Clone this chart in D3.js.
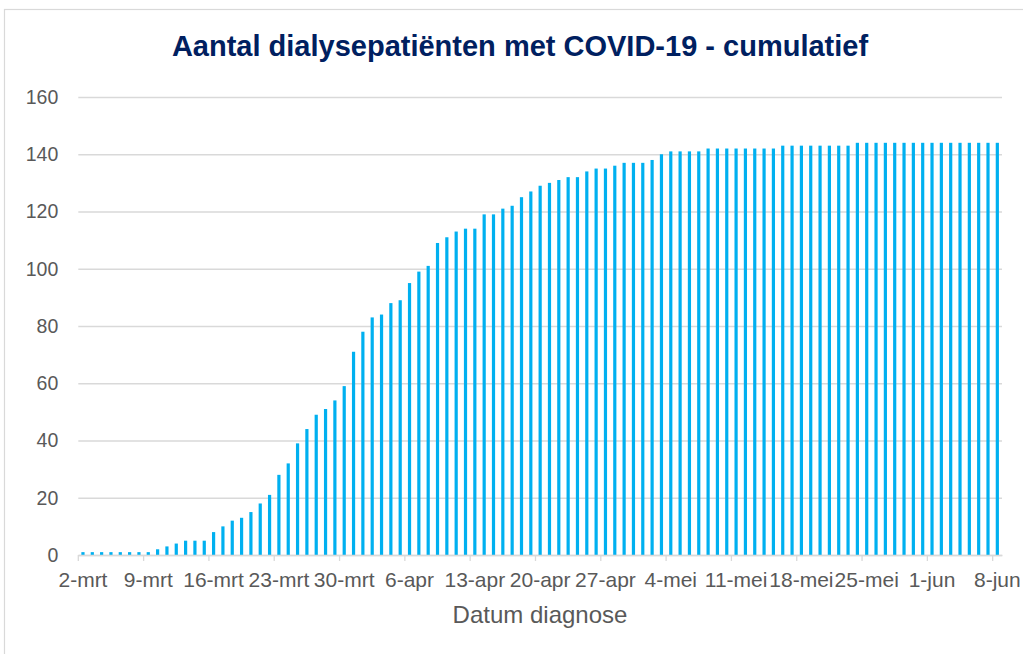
<!DOCTYPE html>
<html>
<head>
<meta charset="utf-8">
<script src="https://cdn.jsdelivr.net/npm/d3@7"></script>
<style>
  body { margin: 0; background: #fff; }
  text { font-family: "Liberation Sans", Arial, sans-serif; }
</style>
</head>
<body>
<div id="chart-wrapper"></div>
<script>
// cumulative counts per day
var marchCounts = [1, 1, 1, 1, 1, 1, 1, 1, 2, 3, 4, 5, 5, 5, 8, 10, 12, 13, 15, 18,
                   21, 28, 32, 39, 44, 49, 51, 54, 59, 71];          // 2 - 31 mrt
var aprilCounts = [78, 83, 84, 88, 89, 95, 99, 101, 109, 111, 113, 114, 114, 119, 119,
                   121, 122, 125, 127, 129, 130, 131, 132, 132, 134, 135, 135, 136, 137, 137];
var mayCounts = [137, 138, 140, 141, 141, 141, 141, 142, 142, 142, 142, 142, 142, 142, 142,
                 143, 143, 143, 143, 143, 143, 143, 143, 144, 144, 144, 144, 144, 144, 144, 144];
var juneCounts = [144, 144, 144, 144, 144, 144, 144, 144];        // 1 - 8 jun

var monthNames = ["mrt", "apr", "mei", "jun"];
var yTicks = [0, 20, 40, 60, 80, 100, 120, 140, 160];

var title = "Aantal dialysepatiënten met COVID-19 - cumulatief";
var xTitle = "Datum diagnose";

// categories: one per day, 2-mrt ... 8-jun
var days = [];
[marchCounts, aprilCounts, mayCounts, juneCounts].forEach(function (arr, m) {
  var first = m === 0 ? 2 : 1;
  arr.forEach(function (v, i) {
    days.push({ label: (first + i) + "-" + monthNames[m], value: v });
  });
});

var W = 1023, H = 654;
var margin = { top: 97, right: 21, bottom: 99, left: 78.3 },
    width = W - margin.left - margin.right,
    height = H - margin.top - margin.bottom;

var root = d3.select("#chart-wrapper")
  .append("svg")
    .attr("width", W)
    .attr("height", H);

// chart frame
root.append("rect")
  .attr("x", 4.5).attr("y", 9.5)
  .attr("width", 1100).attr("height", 800)
  .attr("fill", "none")
  .attr("stroke", "#d9d9d9")
  .attr("stroke-width", 1.2);

root.append("text")
  .attr("x", 520).attr("y", 56)
  .attr("text-anchor", "middle")
  .style("font-size", "29px")
  .style("font-weight", "bold")
  .style("fill", "#002060")
  .text(title);

var svg = root.append("g")
  .attr("transform", `translate(${margin.left},${margin.top})`);

var x = d3.scaleBand()
  .domain(days.map(d => d.label))
  .range([0, width]);

var y = d3.scaleLinear()
  .domain([0, 160])
  .range([height, 0]);

// gridlines + y labels
var yAxis = svg.append("g")
  .call(d3.axisLeft(y).tickValues(yTicks).tickSize(-width).tickPadding(20));
yAxis.select(".domain").remove();
yAxis.selectAll("line").attr("stroke", "#d9d9d9").attr("stroke-width", 1.3);
yAxis.selectAll("text")
  .style("font-size", "19.5px")
  .style("fill", "#595959");

// bars
var barWidth = 3.2;
svg.selectAll("bars")
  .data(days)
  .enter()
  .append("rect")
  .attr("x", d => x(d.label) + x.bandwidth() / 2 - barWidth / 2)
  .attr("y", d => y(d.value))
  .attr("width", barWidth)
  .attr("height", d => height - y(d.value))
  .attr("fill", "#00b0f0");

// x axis: labels every 7 days, tick marks on the category edges
var labelDays = days.filter((d, i) => i % 7 === 0).map(d => d.label);
var xAxis = svg.append("g")
  .attr("transform", `translate(0,${height})`)
  .call(d3.axisBottom(x).tickValues(labelDays).tickSize(0).tickPadding(17));
xAxis.select(".domain").attr("stroke", "#d9d9d9").attr("stroke-width", 1.3);
xAxis.selectAll("text")
  .style("font-size", "21px")
  .style("fill", "#595959");

svg.selectAll("xticks")
  .data(labelDays)
  .enter()
  .append("line")
  .attr("x1", d => x(d))
  .attr("x2", d => x(d))
  .attr("y1", height)
  .attr("y2", height + 6)
  .attr("stroke", "#d9d9d9")
  .attr("stroke-width", 1.3);

root.append("text")
  .attr("x", 540).attr("y", 623)
  .attr("text-anchor", "middle")
  .style("font-size", "24px")
  .style("fill", "#595959")
  .text(xTitle);
</script>
</body>
</html>
